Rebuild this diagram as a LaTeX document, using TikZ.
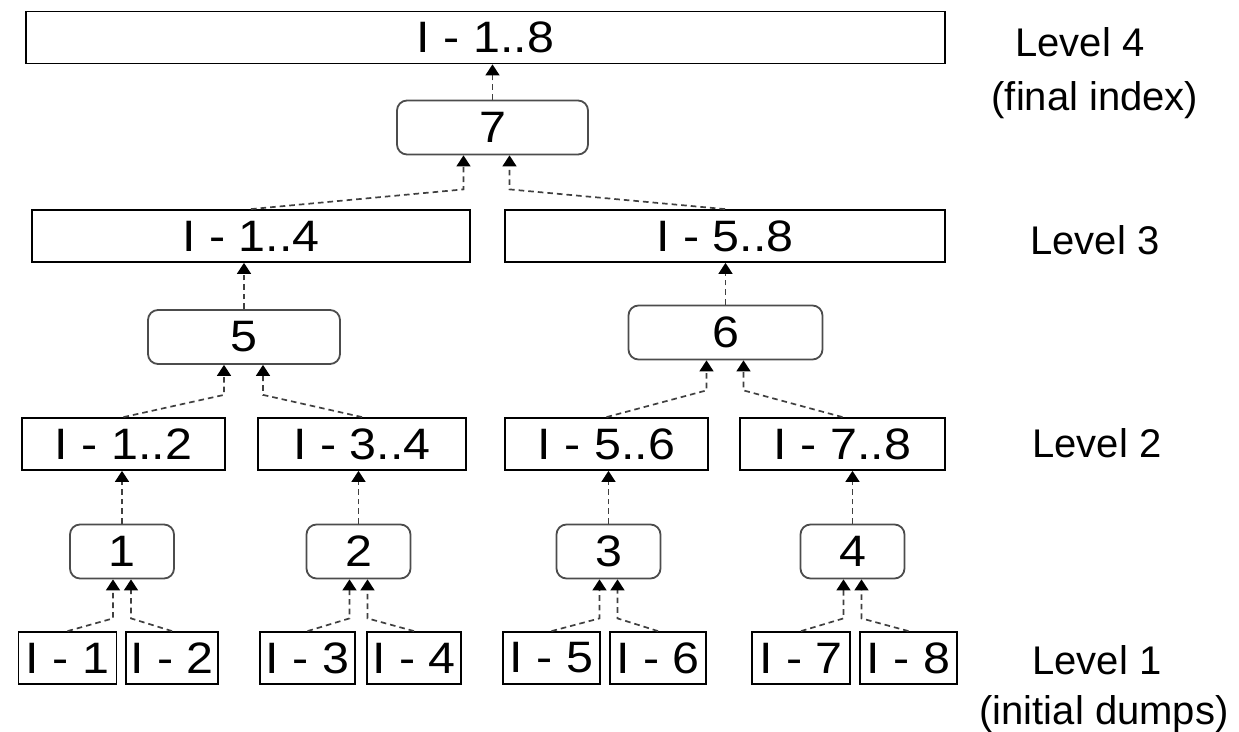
\documentclass[tikz,border=0pt]{standalone}
\usepackage{fontspec}
\setmainfont{Liberation Sans}
\newfontfamily\boxfont[FakeStretch=1.1]{Liberation Sans}
\usetikzlibrary{arrows.meta}

\tikzset{
	index/.style={draw, line width=0.9pt, minimum height=26pt, inner sep=0pt, font=\boxfont\fontsize{22}{26}\selectfont},
	merge/.style={draw=black!70, line width=0.9pt, rounded corners=5pt, minimum height=27pt, minimum width=52pt, inner sep=0pt, font=\boxfont\fontsize{22}{26}\selectfont},
	link/.style={draw=black!75, line width=0.85pt, dash pattern=on 2.8pt off 2pt, -{Triangle[width=7pt,length=5.5pt,color=black]}},
	level/.style={font=\fontsize{20}{24}\selectfont}
}

\begin{document}
\begin{tikzpicture}[x=0.5pt,y=-0.5pt]
			\useasboundingbox (0,0) rectangle (1239,732);
			
			\begin{scope}[every node/.style={index}]
				\node[minimum width=459.5pt] (I18) at (485.5,37.5) {I - 1..8};
				
				\node[minimum width=219pt] (I14) at (251,236) {I - 1..4};
				\node[minimum width=220pt] (I58) at (725,236) {I - 5..8};
				
				\node[minimum width=101.5pt] (I12) at (123.5,444) {I - 1..2};
				\node[minimum width=104pt] (I34) at (362,444) {I - 3..4};
				\node[minimum width=101.5pt] (I56) at (606.5,444) {I - 5..6};
				\node[minimum width=102.5pt] (I78) at (842.5,444) {I - 7..8};
				
				\node[minimum width=49pt] (I1) at (67.5,658) {I - 1};
				\node[minimum width=46pt] (I2) at (172,658) {I - 2};
				\node[minimum width=47.5pt] (I3) at (307.5,658) {I - 3};
				\node[minimum width=47pt] (I4) at (414,658) {I - 4};
				\node[minimum width=48.5pt] (I5) at (551.5,658) {I - 5};
				\node[minimum width=48pt] (I6) at (658,658) {I - 6};
				\node[minimum width=49pt] (I7) at (801,658) {I - 7};
				\node[minimum width=48.5pt] (I8) at (908.5,658) {I - 8};
			\end{scope}
			
			\begin{scope}[every node/.style={merge}]
				\node[minimum width=95.5pt] (M7) at (492.5,127.5) {7};
				\node[minimum width=96pt] (M5) at (244,337) {5};
				\node[minimum width=97pt] (M6) at (725.5,332.5) {6};
				\node (M1) at (122,551.5) {1};
				\node (M2) at (358.5,551.5) {2};
				\node (M3) at (608.5,551.5) {3};
				\node (M4) at (852.5,551.5) {4};
			\end{scope}
			
			\begin{scope}[every node/.style={level}]
				\node (L4) at (1080,42) {Level 4};
				\node (L4b) at (1095,100) {(final index)};
				\node (L3) at (1095,240) {Level 3};
				\node (L2) at (1097,443) {Level 2};
				\node (L1) at (1097,660) {Level 1};
				\node (L1b) at (1104,714) {(initial dumps)};
			\end{scope}
			
			\begin{scope}
				% level 1 -> merges 1..4
				\draw[link] (I1.north) -- ([xshift=-4.5pt,yshift=-19.5pt]M1.south) -- ([xshift=-4.5pt]M1.south);
				\draw[link] (I2.north) -- ([xshift=4.5pt,yshift=-19.5pt]M1.south) -- ([xshift=4.5pt]M1.south);
				\draw[link] (I3.north) -- ([xshift=-4.5pt,yshift=-19.5pt]M2.south) -- ([xshift=-4.5pt]M2.south);
				\draw[link] (I4.north) -- ([xshift=4.5pt,yshift=-19.5pt]M2.south) -- ([xshift=4.5pt]M2.south);
				\draw[link] (I5.north) -- ([xshift=-4.5pt,yshift=-19.5pt]M3.south) -- ([xshift=-4.5pt]M3.south);
				\draw[link] (I6.north) -- ([xshift=4.5pt,yshift=-19.5pt]M3.south) -- ([xshift=4.5pt]M3.south);
				\draw[link] (I7.north) -- ([xshift=-4.5pt,yshift=-19.5pt]M4.south) -- ([xshift=-4.5pt]M4.south);
				\draw[link] (I8.north) -- ([xshift=4.5pt,yshift=-19.5pt]M4.south) -- ([xshift=4.5pt]M4.south);
				
				\draw[link] (M1.north) -- (M1.north |- I12.south);
				\draw[link] (M2.north) -- (M2.north |- I34.south);
				\draw[link] (M3.north) -- (M3.north |- I56.south);
				\draw[link] (M4.north) -- (M4.north |- I78.south);
				
				% level 2 -> merges 5, 6
				\draw[link] (I12.north) -- ([xshift=-10pt,yshift=-15pt]M5.south) -- ([xshift=-10pt]M5.south);
				\draw[link] (I34.north) -- ([xshift=9.5pt,yshift=-15pt]M5.south) -- ([xshift=9.5pt]M5.south);
				\draw[link] (I56.north) -- ([xshift=-9.5pt,yshift=-15pt]M6.south) -- ([xshift=-9.5pt]M6.south);
				\draw[link] (I78.north) -- ([xshift=9pt,yshift=-15pt]M6.south) -- ([xshift=9pt]M6.south);
				
				\draw[link] (M5.north) -- (M5.north |- I14.south);
				\draw[link] (M6.north) -- (M6.north |- I58.south);
				
				% level 3 -> merge 7
				\draw[link] (I14.north) -- ([xshift=-14.5pt,yshift=-17pt]M7.south) -- ([xshift=-14.5pt]M7.south);
				\draw[link] (I58.north) -- ([xshift=8.5pt,yshift=-17pt]M7.south) -- ([xshift=8.5pt]M7.south);
				
				\draw[link] (M7.north) -- (M7.north |- I18.south);
			\end{scope}
\end{tikzpicture}
\end{document}
